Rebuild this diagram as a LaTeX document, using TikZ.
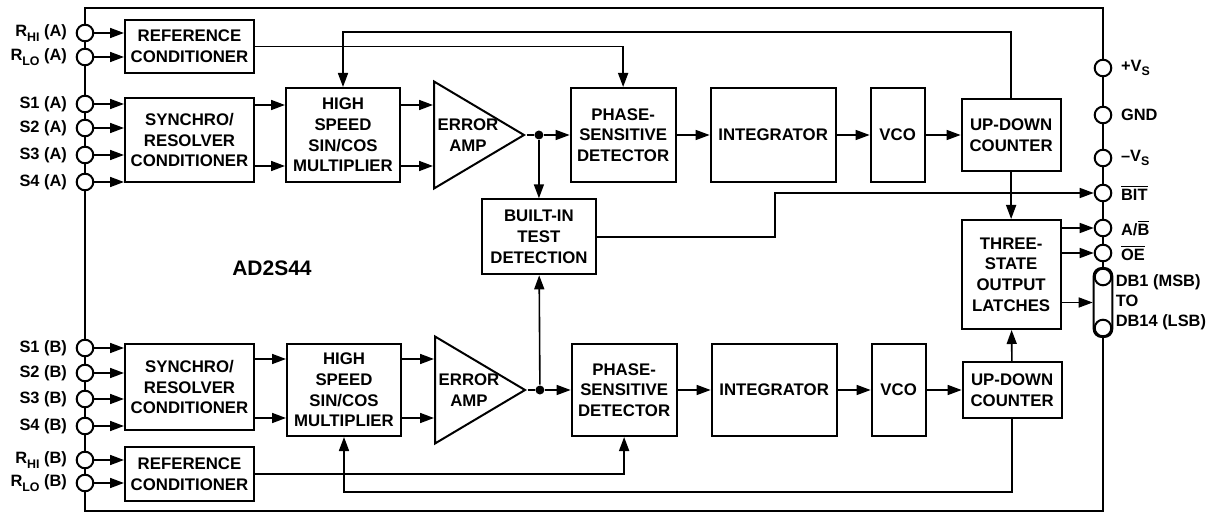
\documentclass[tikz,border=0pt]{standalone}
\usepackage{fontspec}
\setmainfont{Liberation Sans}
\usetikzlibrary{arrows.meta, positioning, calc, shapes.geometric}
\newcommand{\lsub}[1]{\raisebox{-0.55ex}{\fontsize{6.2}{6.2}\selectfont #1}}
\newcommand{\ovl}[1]{$\overline{\mbox{#1}}$}

\begin{document}
\begin{tikzpicture}[
  x=0.5pt, y=-0.5pt,
  node distance=16pt,
  label distance=3pt,
  line width=0.8pt,
  blk/.style={draw, line width=1pt, align=center, inner sep=1pt,
              font=\fontsize{8.4}{10.3}\selectfont\bfseries},
  amp/.style={draw, line width=1pt, isosceles triangle,
              isosceles triangle stretches, inner sep=0pt,
              minimum width=53.5pt, minimum height=45pt},
  term/.style={circle, draw, line width=1pt, fill=white,
               minimum size=8.3pt, inner sep=0pt},
  lbl/.style={font=\fontsize{8.2}{10}\selectfont\bfseries, inner sep=1pt},
  dot/.style={circle, fill, inner sep=0pt, minimum size=4.5pt},
  >={Triangle[length=7pt, width=5pt]}]
\useasboundingbox (0,0) rectangle (1216,513);
\draw[line width=1.3pt] (85,8) rectangle (1103,511);

% channel A
\node[blk, minimum width=64.5pt, minimum height=26.5pt] (refA) at (189.5,46.5) {REFERENCE\\CONDITIONER};
\node[blk, minimum width=64.5pt, minimum height=42pt] (synA) at (189.5,140) {SYNCHRO/\\RESOLVER\\CONDITIONER};
\node[blk, minimum width=57pt, minimum height=47pt] (multA) at (343,135) {HIGH\\SPEED\\SIN/COS\\MULTIPLIER};
\node[amp, right=of multA] (ampA) {};
\node[blk, draw=none] (ampAt) at ([xshift=17.5pt]ampA.west) {ERROR\\AMP};
\node[dot, right=3.5pt of ampA] (jA) {};
\node[blk, minimum width=52.5pt, minimum height=47pt, right=21.5pt of ampA] (phA) {PHASE-\\SENSITIVE\\DETECTOR};
\node[blk, minimum width=62.5pt, minimum height=47pt, right=16.5pt of phA] (intA) {INTEGRATOR};
\node[blk, minimum width=27pt, minimum height=47pt, right=16.5pt of intA] (vcoA) {VCO};
\node[blk, minimum width=49.5pt, minimum height=36pt, right=17.5pt of vcoA] (cntA) {UP-DOWN\\COUNTER};

% shared blocks
\node[blk, minimum width=57pt, minimum height=37.5pt, below=29pt of jA] (bit) {BUILT-IN\\TEST\\DETECTION};
\node[blk, minimum width=49.5pt, minimum height=54.5pt, below=23.5pt of cntA] (latch) {THREE-\\STATE\\OUTPUT\\LATCHES};
\node[font=\fontsize{10.5}{12}\selectfont\bfseries] (chip) at (272,268) {AD2S44};

% channel B
\node[blk, minimum width=64.5pt, minimum height=27pt] (refB) at (189.5,474) {REFERENCE\\CONDITIONER};
\node[blk, minimum width=64.5pt, minimum height=43pt] (synB) at (189.5,387) {SYNCHRO/\\RESOLVER\\CONDITIONER};
\node[blk, minimum width=57pt, minimum height=46pt] (multB) at (344,390) {HIGH\\SPEED\\SIN/COS\\MULTIPLIER};
\node[amp, right=of multB] (ampB) {};
\node[blk, draw=none] (ampBt) at ([xshift=17.5pt]ampB.west) {ERROR\\AMP};
\node[dot, right=3.5pt of ampB] (jB) {};
\node[blk, minimum width=52.5pt, minimum height=46pt, right=21.5pt of ampB] (phB) {PHASE-\\SENSITIVE\\DETECTOR};
\node[blk, minimum width=62.5pt, minimum height=46pt, right=16.5pt of phB] (intB) {INTEGRATOR};
\node[blk, minimum width=27pt, minimum height=46pt, right=16.5pt of intB] (vcoB) {VCO};
\node[blk, minimum width=49.5pt, minimum height=28pt, right=17.5pt of vcoB] (cntB) {UP-DOWN\\COUNTER};

% input pins
\node[term, label={[lbl]left:R\lsub{HI} (A)}] (rhiA) at (85,33) {};
\node[term, label={[lbl]left:R\lsub{LO} (A)}] (rloA) at (85,57) {};
\node[term, label={[lbl]left:S1 (A)}] (s1A) at (85,104) {};
\node[term, label={[lbl]left:S2 (A)}] (s2A) at (85,128) {};
\node[term, label={[lbl]left:S3 (A)}] (s3A) at (85,155) {};
\node[term, label={[lbl]left:S4 (A)}] (s4A) at (85,182) {};
\node[term, label={[lbl]left:S1 (B)}] (s1B) at (85,348) {};
\node[term, label={[lbl]left:S2 (B)}] (s2B) at (85,373) {};
\node[term, label={[lbl]left:S3 (B)}] (s3B) at (85,399) {};
\node[term, label={[lbl]left:S4 (B)}] (s4B) at (85,426) {};
\node[term, label={[lbl]left:R\lsub{HI} (B)}] (rhiB) at (85,460) {};
\node[term, label={[lbl]left:R\lsub{LO} (B)}] (rloB) at (85,483) {};

% supply and output pins
\node[term, label={[lbl]right:+V\lsub{S}}] (vpP) at (1103,68) {};
\node[term, label={[lbl]right:GND}] (gndP) at (1103,115) {};
\node[term, label={[lbl]right:–V\lsub{S}}] (vmP) at (1103,158) {};
\node[term, label={[lbl]right:\ovl{BIT}}] (bitP) at (1103,193) {};
\node[term, label={[lbl]right:A/\ovl{B}}] (abP) at (1103,228) {};
\node[term, label={[lbl]right:\ovl{OE}}] (oeP) at (1103,253) {};
\node[draw, line width=1pt, fill=white, rounded corners=4pt, inner sep=0pt,
      minimum width=9.3pt, minimum height=34.5pt] (bus) at (1103,302.5) {};
\node[term] (dbT) at (1103,277) {};
\node[term] (dbB) at (1103,328) {};
\node[lbl, anchor=west, align=left] (busL) at (1113,302.5) {DB1 (MSB)\\TO\\DB14 (LSB)};

% pins to conditioners
\draw[->] (rhiA) -- (rhiA -| refA.west);
\draw[->] (rloA) -- (rloA -| refA.west);
\draw[->] (s1A) -- (s1A -| synA.west);
\draw[->] (s2A) -- (s2A -| synA.west);
\draw[->] (s3A) -- (s3A -| synA.west);
\draw[->] (s4A) -- (s4A -| synA.west);
\draw[->] (s1B) -- (s1B -| synB.west);
\draw[->] (s2B) -- (s2B -| synB.west);
\draw[->] (s3B) -- (s3B -| synB.west);
\draw[->] (s4B) -- (s4B -| synB.west);
\draw[->] (rhiB) -- (rhiB -| refB.west);
\draw[->] (rloB) -- (rloB -| refB.west);

% channel A signal path
\coordinate (inA1) at ([yshift=15pt]multA.west);
\coordinate (inA2) at ([yshift=-15.5pt]multA.west);
\draw[->] (inA1 -| synA.east) -- (inA1);
\draw[->] (inA2 -| synA.east) -- (inA2);
\draw[->] (inA1 -| multA.east) -- (inA1 -| ampA.west);
\draw[->] (inA2 -| multA.east) -- (inA2 -| ampA.west);
\draw (ampA.east) -- (jA);
\draw[->] (jA) -- (phA);
\draw[->] (jA) -- (bit);
\draw[->] (phA) -- (intA);
\draw[->] (intA) -- (vcoA);
\draw[->] (vcoA) -- (cntA);
\draw[->] (refA) -| (phA);
\draw[->] (cntA) |- ([yshift=27.5pt]multA.north) -- (multA);
\draw[->] (cntA) -- (latch);

% channel B signal path
\coordinate (inB1) at ([yshift=15.5pt]multB.west);
\coordinate (inB2) at ([yshift=-14pt]multB.west);
\draw[->] (inB1 -| synB.east) -- (inB1);
\draw[->] (inB2 -| synB.east) -- (inB2);
\draw[->] (inB1 -| multB.east) -- (inB1 -| ampB.west);
\draw[->] (inB2 -| multB.east) -- (inB2 -| ampB.west);
\draw (ampB.east) -- (jB);
\draw[->] (jB) -- (phB);
\draw[->] (jB) -- (bit);
\draw[->] (phB) -- (intB);
\draw[->] (intB) -- (vcoB);
\draw[->] (vcoB) -- (cntB);
\draw[->] (refB) -| (phB);
\draw[->] (cntB) |- ([yshift=-27.5pt]multB.south) -- (multB);
\draw[->] (cntB) -- (latch);

% outputs
\draw[->] (bit) -- ++(118pt,0) |- (bitP);
\draw[->] (abP -| latch.east) -- (abP);
\draw[->] (oeP -| latch.east) -- (oeP);
\draw[->] (bus -| latch.east) -- (bus);
\end{tikzpicture}
\end{document}
